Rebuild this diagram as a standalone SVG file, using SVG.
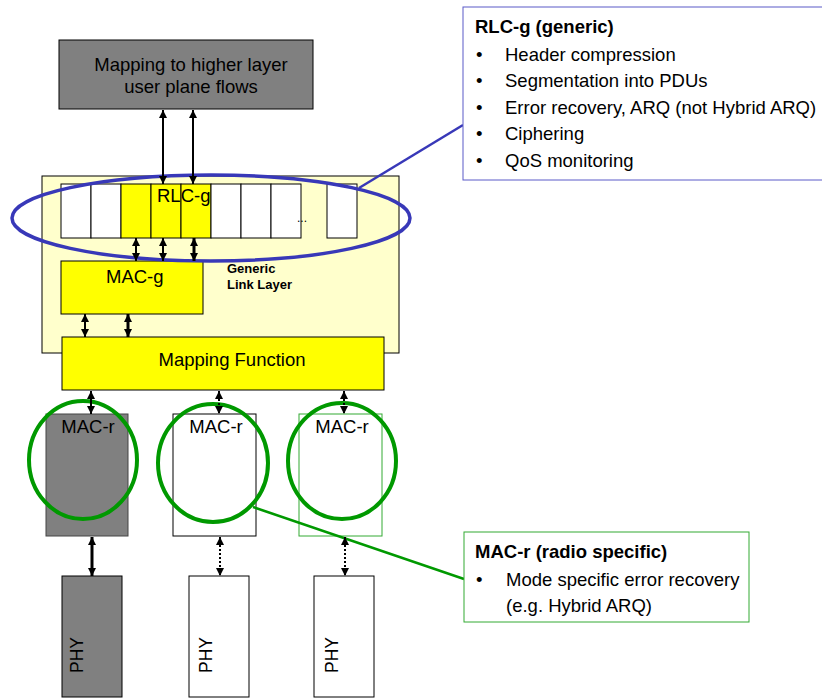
<svg xmlns="http://www.w3.org/2000/svg" width="822" height="699" viewBox="0 0 822 699">
  <defs>
    <style>
      text { font-family: "Liberation Sans", Arial, sans-serif; fill: #000; }
      .lbl { font-size: 18.5px; }
      .ctr { text-anchor: middle; }
      .bold { font-weight: bold; }
      .box { stroke: #000; stroke-width: 1; }
      .gray { fill: #808080; }
      .yellow { fill: #FFFF00; }
      .white { fill: #FFFFFF; }
      .arrow { stroke: #000; stroke-width: 2; fill: none; marker-start: url(#head); marker-end: url(#head); }
      .thick { stroke-width: 3; }
      .dotted { stroke-dasharray: 2 2; }
      .ring-g { fill: none; stroke: #009900; stroke-width: 4; }
    </style>
    <marker id="head" viewBox="0 0 10 10" refX="10" refY="5" markerWidth="8" markerHeight="8" markerUnits="userSpaceOnUse" orient="auto-start-reverse">
      <path d="M0,0 L10,5 L0,10 Z" fill="#000"/>
    </marker>
  </defs>

  <rect width="822" height="699" fill="#FFFFFF"/>

  <!-- higher layer mapping -->
  <g id="higher-layer">
    <rect class="box gray" x="59" y="40" width="254" height="69"/>
    <text class="lbl ctr" x="191" y="71">Mapping to higher layer</text>
    <text class="lbl ctr" x="191" y="93">user plane flows</text>
  </g>

  <!-- generic link layer container -->
  <g id="generic-link-layer">
    <rect x="42" y="176" width="357" height="177" fill="#FFFFCC" stroke="#000" stroke-width="1"/>
    <text class="bold" x="227" y="273" font-size="13">Generic</text>
    <text class="bold" x="227" y="289" font-size="13">Link Layer</text>
  </g>

  <!-- RLC-g entities -->
  <g id="rlc-g">
    <rect class="box white" x="61" y="184" width="30" height="54"/>
    <rect class="box white" x="91" y="184" width="30" height="54"/>
    <rect class="box yellow" x="121" y="184" width="30" height="54"/>
    <rect class="box yellow" x="151" y="184" width="30" height="54"/>
    <rect class="box yellow" x="181" y="184" width="30" height="54"/>
    <rect class="box white" x="211" y="184" width="30" height="54"/>
    <rect class="box white" x="241" y="184" width="30" height="54"/>
    <rect class="box white" x="271" y="184" width="30" height="54"/>
    <rect class="box white" x="327" y="184" width="30" height="54"/>
    <text x="297" y="222" font-size="12">...</text>
    <text class="lbl" x="157" y="202">RLC-g</text>
  </g>

  <!-- MAC-g -->
  <g id="mac-g">
    <rect class="box yellow" x="61" y="261" width="142" height="53"/>
    <text class="lbl" x="106" y="283">MAC-g</text>
  </g>

  <!-- Mapping Function -->
  <g id="mapping-function">
    <rect class="box yellow" x="62" y="337" width="322" height="53"/>
    <text class="lbl ctr" x="232" y="366">Mapping Function</text>
  </g>

  <!-- MAC-r entities -->
  <g id="mac-r-1">
    <rect x="46" y="414" width="82" height="122" fill="#808080" stroke="#444" stroke-width="1"/>
    <text class="lbl ctr" x="88" y="433">MAC-r</text>
  </g>
  <g id="mac-r-2">
    <rect class="box white" x="173" y="414" width="83" height="122"/>
    <text class="lbl ctr" x="216" y="433">MAC-r</text>
  </g>
  <g id="mac-r-3">
    <rect x="299" y="414" width="83" height="122" fill="#FFFFFF" stroke="#33AA33" stroke-width="1"/>
    <text class="lbl ctr" x="342" y="433">MAC-r</text>
  </g>

  <!-- PHY entities -->
  <g id="phy-1">
    <rect class="box gray" x="62" y="576" width="60" height="121"/>
    <text class="ctr" font-size="17.5" transform="translate(83,655) rotate(-90)">PHY</text>
  </g>
  <g id="phy-2">
    <rect class="box white" x="189" y="576" width="60" height="121"/>
    <text class="ctr" font-size="17.5" transform="translate(212,655) rotate(-90)">PHY</text>
  </g>
  <g id="phy-3">
    <rect class="box white" x="314" y="576" width="60" height="121"/>
    <text class="ctr" font-size="17.5" transform="translate(338,655) rotate(-90)">PHY</text>
  </g>

  <!-- highlight rings and callouts -->
  <g id="rlc-callout">
    <ellipse cx="211" cy="218" rx="199" ry="43" fill="none" stroke="#3838B8" stroke-width="3.5"/>
    <line x1="359" y1="188" x2="463" y2="125" stroke="#3838B8" stroke-width="2.5"/>
    <rect x="463" y="7" width="370" height="173" fill="#FFFFFF" stroke="#5A5AC8" stroke-width="1"/>
    <text class="lbl bold" x="475" y="33">RLC-g (generic)</text>
    <text class="lbl" x="476" y="61">•</text>
    <text class="lbl" x="505" y="61">Header compression</text>
    <text class="lbl" x="476" y="87">•</text>
    <text class="lbl" x="505" y="87">Segmentation into PDUs</text>
    <text class="lbl" x="476" y="114">•</text>
    <text class="lbl" x="505" y="114">Error recovery, ARQ (not Hybrid ARQ)</text>
    <text class="lbl" x="476" y="140">•</text>
    <text class="lbl" x="505" y="140">Ciphering</text>
    <text class="lbl" x="476" y="167">•</text>
    <text class="lbl" x="505" y="167">QoS monitoring</text>
  </g>

  <g id="mac-r-callout">
    <ellipse class="ring-g" cx="83" cy="460" rx="54" ry="59"/>
    <ellipse class="ring-g" cx="213" cy="463" rx="55" ry="59"/>
    <ellipse class="ring-g" cx="342" cy="461" rx="54" ry="58"/>
    <line x1="253" y1="507" x2="464" y2="579" stroke="#009900" stroke-width="2.5"/>
    <rect x="464" y="532" width="285" height="90" fill="#FFFFFF" stroke="#33AA33" stroke-width="1"/>
    <text class="lbl bold" x="475" y="558">MAC-r (radio specific)</text>
    <text class="lbl" x="476" y="586">•</text>
    <text class="lbl" x="506" y="586">Mode specific error recovery</text>
    <text class="lbl" x="506" y="612">(e.g. Hybrid ARQ)</text>
  </g>

  <!-- connectors, drawn above the highlight rings -->
  <g id="connectors">
    <line class="arrow" x1="163" y1="110" x2="163" y2="184"/>
    <line class="arrow" x1="193" y1="110" x2="193" y2="184"/>

    <line class="arrow" x1="136" y1="238" x2="136" y2="261"/>
    <line class="arrow" x1="163" y1="238" x2="163" y2="261"/>
    <line class="arrow thick" x1="194" y1="238" x2="194" y2="261"/>

    <line class="arrow" x1="85" y1="314" x2="85" y2="337"/>
    <line class="arrow thick" x1="128" y1="314" x2="128" y2="337"/>

    <line class="arrow" x1="91" y1="391" x2="91" y2="414"/>
    <line class="arrow dotted" x1="219" y1="391" x2="219" y2="414"/>
    <line class="arrow dotted" x1="344" y1="391" x2="344" y2="414"/>

    <line class="arrow thick" x1="92" y1="537" x2="92" y2="576"/>
    <line class="arrow dotted" x1="220" y1="537" x2="220" y2="576"/>
    <line class="arrow dotted" x1="345" y1="537" x2="345" y2="576"/>
  </g>
</svg>
